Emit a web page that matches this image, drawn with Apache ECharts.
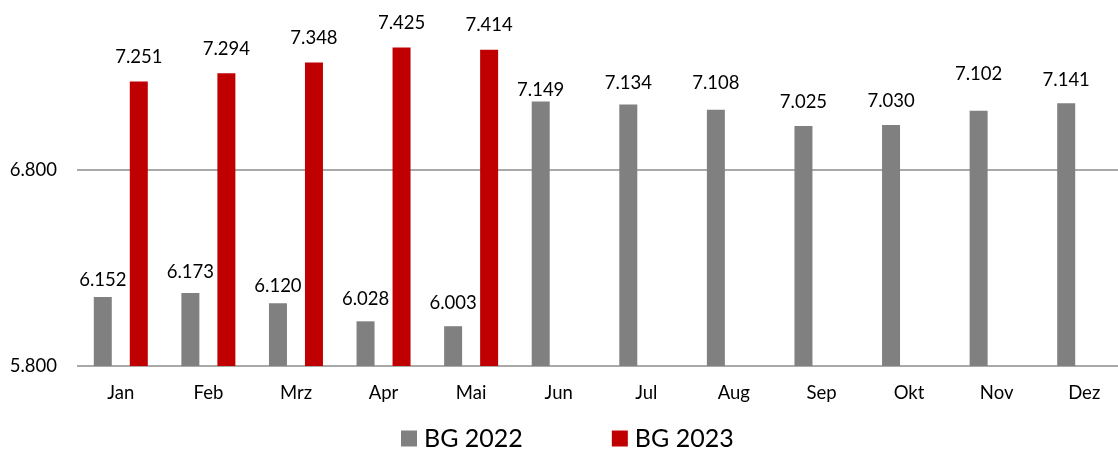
<!DOCTYPE html>
<html>
<head>
<meta charset="utf-8">
<script src="https://cdn.jsdelivr.net/npm/echarts@6/dist/echarts.min.js"></script>
<style>
html,body{margin:0;padding:0;background:#fff;overflow:hidden;width:1118px;height:449px;}
#chart{position:absolute;left:0;top:-26px;width:1118px;height:475px;}
</style>
</head>
<body>
<div id="chart"></div>
<script>
// ---- data ----
const categories = ['Jan','Feb','Mrz','Apr','Mai','Jun','Jul','Aug','Sep','Okt','Nov','Dez'];
const bg2022 = [6152, 6173, 6120, 6028, 6003, 7149, 7134, 7108, 7025, 7030, 7102, 7141];
const bg2023 = [7251, 7294, 7348, 7425, 7414, null, null, null, null, null, null, null];
const seriesNames = ['BG 2022', 'BG 2023'];
const yMin = 5800, yMax = 7800, yStep = 1000;

// ---- styling ----
const FONT = 'Lato';
const fmt = v => (v / 1000).toFixed(3);
// distance of each grey label above its bar (matches the reference's manual label placement)
const greyLabelDist = [7, 11, 8, 13, 14, 2, 12, 17, 14, 14, 27, 14];

const chart = echarts.init(document.getElementById('chart'), null, {renderer: 'canvas'});
chart.setOption({
  animation: false,
  backgroundColor: '#ffffff',
  grid: {left: 77, right: -10, top: 0, bottom: 83, containLabel: false, outerBoundsMode: 'none'},
  legend: {
    data: seriesNames,
    left: 396, top: 447,
    icon: 'rect', itemWidth: 16, itemHeight: 16, itemGap: 89,
    textStyle: {fontFamily: FONT, fontSize: 25, color: '#000', padding: [0,0,0,2]}
  },
  xAxis: {
    type: 'category', data: categories,
    axisLine: {show: false}, axisTick: {show: false},
    axisLabel: {fontFamily: FONT, fontSize: 18.5, color: '#000', margin: 18}
  },
  yAxis: {
    type: 'value', min: yMin, max: yMax, interval: yStep,
    axisLine: {show: false}, axisTick: {show: false},
    axisLabel: {fontFamily: FONT, fontSize: 18.5, color: '#000', margin: 20, formatter: fmt},
    splitLine: {lineStyle: {color: '#8c8c8c', width: 1.5}}
  },
  series: [
    {
      name: seriesNames[0], type: 'bar', barWidth: 18, barGap: '100%',
      itemStyle: {color: '#808080'},
      data: bg2022.map((v, i) => ({
        value: v,
        label: {show: true, position: 'top', distance: greyLabelDist[i], formatter: p => fmt(p.value),
                fontFamily: FONT, fontSize: 18.5, color: '#000'}
      }))
    },
    {
      name: seriesNames[1], type: 'bar', barWidth: 18, barGap: '100%',
      itemStyle: {color: '#C00000'},
      label: {show: true, position: 'top', distance: 15, formatter: p => fmt(p.value),
              fontFamily: FONT, fontSize: 18.5, color: '#000'},
      data: bg2023
    }
  ]
});
</script>
</body>
</html>
